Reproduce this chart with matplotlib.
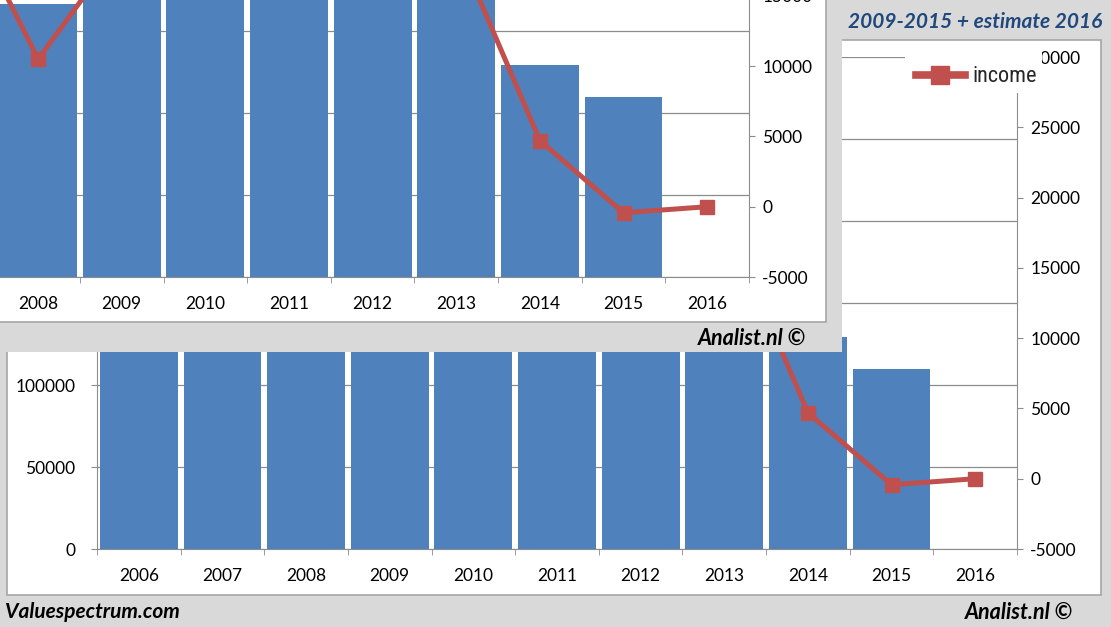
import numpy as np
import matplotlib
matplotlib.use("Agg")
import matplotlib.pyplot as plt
import matplotlib.font_manager as fm
from matplotlib.patches import Rectangle
from matplotlib.lines import Line2D

# ── data ────────────────────────────────────────────────────────────────
years = ["2006", "2007", "2008", "2009", "2010", "2011",
         "2012", "2013", "2014", "2015", "2016"]
revenue = [150000, 160000, 166500, 180000, 190000, 200000,
           195000, 185000, 129000, 110000, np.nan]
income = [20000, 22400, 10500, 18600, 21000, 24000,
          22000, 18600, 4700, -430, 0]
left_ticks = list(range(0, 300001, 50000))
right_ticks = list(range(-5000, 30001, 5000))

# ── style ───────────────────────────────────────────────────────────────
W, H = 1111, 627
GREY_BG = "#d9d9d9"
BORDER = "#a6a6a6"
GRID = "#8c8c8c"
BLUE = "#4f81bd"
RED = "#c0504d"
TITLE_COL = "#1f497d"

names = {f.name for f in fm.fontManager.ttflist}
FONT = "Lato" if "Lato" in names else "DejaVu Sans"
NARROW = "DejaVu Sans"
for cand in ["Liberation Sans Narrow", "Roboto Condensed", "Open Sans Condensed"]:
    if cand in names:
        NARROW = cand
        break
plt.rcParams["font.family"] = [FONT, "DejaVu Sans"]
plt.rcParams["axes.unicode_minus"] = False


def fx(px):
    return px / W


def fy(py):
    return 1 - py / H


def box(l, t, r, b):
    return [fx(l), fy(b), fx(r) - fx(l), fy(t) - fy(b)]


def draw_chart(ax, z):
    """Excel-like bar + line combo chart on ax and a twin axis."""
    x = np.arange(len(years))
    ax.set_zorder(z)
    ax.patch.set_visible(False)
    ax.bar(x, revenue, width=0.93, color=BLUE, zorder=2)
    ax.set_xlim(-0.5, len(years) - 0.5)
    ax.set_ylim(0, 300000)
    ax.set_yticks(left_ticks)
    ax.yaxis.grid(True, color=GRID, lw=0.9)
    ax.set_axisbelow(True)
    ax.set_xticks(x)
    ax.set_xticklabels(years)
    ax.set_xticks(np.arange(-0.5, len(years)), minor=True)
    ax.tick_params(axis="x", which="major", length=0, pad=14, labelsize=12.5)
    ax.tick_params(axis="x", which="minor", length=4.5, color=GRID)
    ax.tick_params(axis="y", length=4.5, color=GRID, pad=11, labelsize=12.5)
    for s in ["top", "right"]:
        ax.spines[s].set_visible(False)
    for s in ["left", "bottom"]:
        ax.spines[s].set_color(GRID)

    ax2 = ax.twinx()
    ax2.set_zorder(z + 1)
    ax2.patch.set_visible(False)
    ax2.plot(x, income, color=RED, lw=3.6, marker="s", ms=10,
             solid_joinstyle="miter")
    ax2.set_ylim(-5000, 30000)
    ax2.set_yticks(right_ticks)
    ax2.tick_params(axis="y", length=4.5, color=GRID, pad=5, labelsize=12.5)
    for s in ["top", "left", "bottom"]:
        ax2.spines[s].set_visible(False)
    ax2.spines["right"].set_color(GRID)
    return ax2


fig = plt.figure(figsize=(W / 100, H / 100), dpi=100, facecolor=GREY_BG)

# back chart panel
fig.add_artist(Rectangle((fx(7), fy(595)), fx(1101) - fx(7), fy(40) - fy(595),
                         transform=fig.transFigure, facecolor="white",
                         edgecolor=BORDER, lw=1.2, zorder=0))

ax = fig.add_axes(box(97, 57, 1017, 549))
ax2 = draw_chart(ax, 1)
ax.text(fx(1102), fy(22), "2009-2015 + estimate 2016", transform=fig.transFigure,
        ha="right", va="center", color=TITLE_COL, fontsize=15,
        fontweight="bold", style="italic")

# legend area (covers the top of the right axis, as in the source)
ax2.add_patch(Rectangle((fx(905), fy(93)), fx(1042) - fx(905), fy(44) - fy(93),
                        transform=fig.transFigure, facecolor="white",
                        edgecolor="none", clip_on=False, zorder=4))
handle = Line2D([], [], color=RED, lw=5.5, marker="s", ms=12.5)
leg = ax2.legend([handle], ["income"], loc="center left",
                 bbox_to_anchor=(fx(916), fy(77)), bbox_transform=fig.transFigure,
                 frameon=False, handlelength=2.2, handletextpad=0.35,
                 borderpad=0, borderaxespad=0,
                 prop={"family": NARROW, "stretch": "condensed", "size": 16})
leg.set_zorder(6)
for t in leg.get_texts():
    t.set_color("#262626")

# overlaid (cropped) chart in the upper left
frame = fig.add_axes(box(0, 0, 842, 352))
frame.set_zorder(3)
frame.set_facecolor(GREY_BG)
frame.set_xticks([])
frame.set_yticks([])
for s in frame.spines.values():
    s.set_visible(False)
frame.add_patch(Rectangle((fx(-3), fy(322)), fx(826) - fx(-3), fy(-3) - fy(322),
                          transform=fig.transFigure, facecolor="white",
                          edgecolor=BORDER, lw=1.2))
frame.text(fx(806), fy(338), "Analist.nl \u00a9", transform=fig.transFigure,
           ha="right", va="center", fontsize=15.5, fontweight="bold", style="italic")

axi = fig.add_axes(box(97 - 268, 57 - 272, 1017 - 268, 549 - 272))
draw_chart(axi, 4)

# footer texts
fig.text(fx(5), fy(612), "Valuespectrum.com", ha="left", va="center",
         fontsize=15, fontweight="bold", style="italic", zorder=10)
fig.text(fx(1073), fy(612), "Analist.nl \u00a9", ha="right", va="center",
         fontsize=15.5, fontweight="bold", style="italic", zorder=10)

fig.savefig("out.png", dpi=100, facecolor=fig.get_facecolor())
